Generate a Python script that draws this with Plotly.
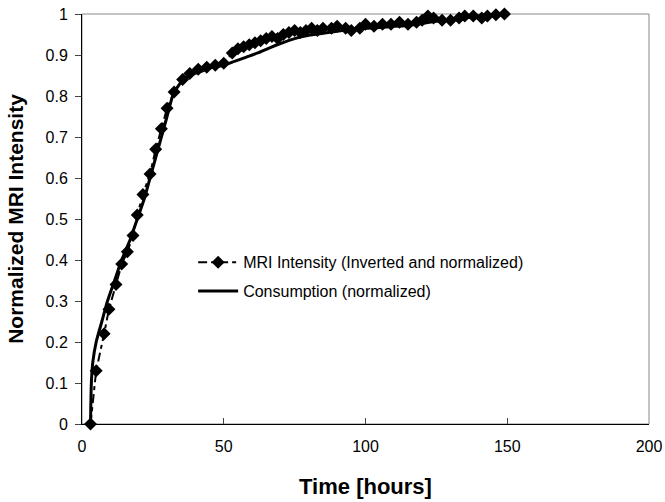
import plotly.graph_objects as go

# MRI intensity (inverted and normalized)
mri_time = [3, 5, 7.8, 9.5, 12, 14, 16, 18, 19.5, 21.5,
            24, 26, 28, 30, 32.5, 35.5, 38, 41, 44, 47,
            50, 53, 55, 57, 59, 61, 63, 65, 67, 69,
            71, 73, 75, 77, 79, 81, 83, 85, 88, 90,
            93, 95, 98, 100, 103, 106, 109, 112, 115, 118,
            120, 122, 124, 127, 130, 133, 135, 138, 141, 143,
            146, 149]
mri_value = [0, 0.13, 0.22, 0.28, 0.34, 0.39, 0.42, 0.46, 0.51, 0.56,
             0.61, 0.67, 0.72, 0.77, 0.81, 0.84, 0.855, 0.865, 0.87, 0.875,
             0.88, 0.905, 0.915, 0.92, 0.925, 0.93, 0.935, 0.94, 0.945, 0.94,
             0.95, 0.955, 0.96, 0.955, 0.96, 0.965, 0.96, 0.965, 0.965, 0.97,
             0.965, 0.96, 0.965, 0.975, 0.97, 0.975, 0.975, 0.98, 0.975, 0.98,
             0.985, 0.995, 0.99, 0.985, 0.985, 0.99, 0.995, 0.995, 0.99, 0.995,
             0.998, 1.0]

# Consumption (normalized)
cons_time = [3, 3.3, 3.8, 5, 7, 9, 11.5, 14, 17, 19.5,
             22, 24, 26, 28, 30, 32, 34.5, 38, 42, 46,
             50, 54, 58, 62, 66, 70, 75, 80, 85, 90,
             95, 100, 105, 110, 115, 120, 125, 130, 135, 140,
             145, 148]
cons_value = [0, 0.1, 0.15, 0.2, 0.25, 0.3, 0.35, 0.4, 0.45, 0.5,
              0.55, 0.6, 0.65, 0.7, 0.75, 0.8, 0.83, 0.85, 0.86, 0.87,
              0.875, 0.885, 0.895, 0.905, 0.917, 0.928, 0.94, 0.948, 0.953, 0.958,
              0.962, 0.965, 0.967, 0.97, 0.972, 0.977, 0.982, 0.986, 0.99, 0.995,
              0.998, 1.0]

x_ticks = [0, 50, 100, 150, 200]
y_ticks = [0, 0.1, 0.2, 0.3, 0.4, 0.5, 0.6, 0.7, 0.8, 0.9, 1]
y_tick_labels = ["0", "0.1", "0.2", "0.3", "0.4", "0.5", "0.6", "0.7", "0.8", "0.9", "1"]

fig = go.Figure()
fig.add_trace(go.Scatter(
    x=mri_time, y=mri_value, mode="lines+markers",
    name="MRI Intensity (Inverted and normalized)",
    legendgroup="a",
    line=dict(color="black", width=2, dash="9px,4px,4px,4px"),
    marker=dict(symbol="diamond", size=10, color="black"),
    cliponaxis=False,
))
fig.add_trace(go.Scatter(
    x=cons_time, y=cons_value, mode="lines",
    name="Consumption (normalized)",
    legendgroup="b",
    line=dict(color="black", width=3, shape="spline", smoothing=0.6),
    cliponaxis=False,
))

fig.add_shape(type="rect", xref="paper", yref="paper", x0=0, x1=1, y0=0, y1=1,
              line=dict(color="#888888", width=1), layer="below")

font_family = "Liberation Sans, Arial, sans-serif"
fig.update_layout(
    width=665, height=502,
    margin=dict(l=82, r=16, t=14, b=78, autoexpand=False),
    plot_bgcolor="white", paper_bgcolor="white",
    font=dict(family=font_family, color="black", size=16),
    showlegend=True,
    legend=dict(x=0.196, y=0.436, xanchor="left", yanchor="top",
                bgcolor="rgba(0,0,0,0)", font=dict(size=16, color="black"),
                traceorder="grouped", tracegroupgap=5, itemwidth=40),
    xaxis=dict(range=[0, 200], tickvals=x_ticks, ticks="inside", ticklen=6,
               showline=True, linecolor="black", linewidth=1, showgrid=False,
               zeroline=False, tickfont=dict(size=16), automargin=False,
               ticklabelstandoff=8, ticklabeloverflow="allow",
               title=dict(text="<b>Time [hours]</b>", font=dict(size=22), standoff=24)),
    yaxis=dict(range=[0, 1], tickvals=y_ticks, ticktext=y_tick_labels,
               ticks="outside", ticklen=6, showline=True, linecolor="black",
               linewidth=1, showgrid=False, zeroline=False, tickfont=dict(size=16),
               automargin=False, ticklabelstandoff=4, ticklabeloverflow="allow",
               title=dict(text="<b>Normalized MRI Intensity</b>", font=dict(size=21), standoff=16)),
)

fig.write_html("out.html",
               config={"displayModeBar": False},
               post_script="document.body.style.margin='0';document.documentElement.style.overflow='hidden';")
